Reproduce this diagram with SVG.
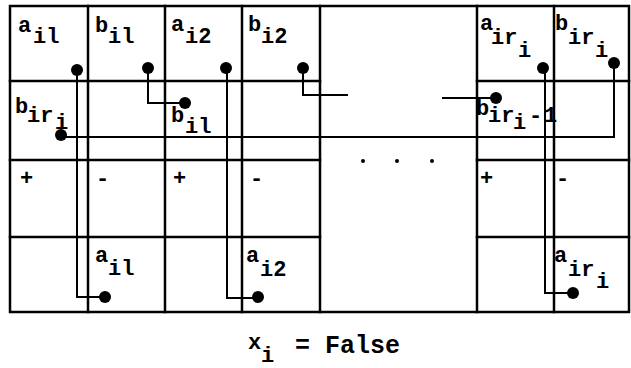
<svg xmlns="http://www.w3.org/2000/svg" width="631" height="368" viewBox="0 0 631 368">
<style>
.grid{stroke:#000;stroke-width:2.5;fill:none;stroke-linecap:square}
.wire{stroke:#000;stroke-width:2;fill:none}
.dot{fill:#000}
text{font-family:"Liberation Mono","Courier New",monospace;font-size:22px;font-weight:bold;fill:#000}
.big{font-size:25px}
</style>
<rect width="631" height="368" fill="#fff"/>
<g id="grid">
<rect class="grid" x="10" y="6" width="619" height="306"/>
<path class="grid" d="M88,6V312M165,6V312M242,6V312M320,6V312M477,6V312M554,6V312"/>
<path class="grid" d="M10,81H320M477,81H629M10,160H320M477,160H629M10,237H320M477,237H629"/>
</g>
<g id="connectors">
<path class="wire" d="M77,70V297H105"/>
<path class="wire" d="M148,68V103H185"/>
<path class="wire" d="M227,68V298H258"/>
<path class="wire" d="M303,68V95H348"/>
<path class="wire" d="M442,98H496"/>
<path class="wire" d="M61,137H614V63"/>
<path class="wire" d="M545,68V293H573"/>
<circle class="dot" cx="77" cy="70" r="6"/>
<circle class="dot" cx="105" cy="297" r="6"/>
<circle class="dot" cx="148" cy="68" r="6"/>
<circle class="dot" cx="185" cy="103" r="6"/>
<circle class="dot" cx="226" cy="68" r="6"/>
<circle class="dot" cx="258" cy="297" r="6"/>
<circle class="dot" cx="303" cy="68" r="6"/>
<circle class="dot" cx="496" cy="98" r="6"/>
<circle class="dot" cx="61" cy="135" r="6"/>
<circle class="dot" cx="614" cy="63" r="6"/>
<circle class="dot" cx="543" cy="68" r="6"/>
<circle class="dot" cx="573" cy="293" r="6"/>
</g>
<g id="n-a-i1"><text x="18" y="32">a<tspan x="33" y="43">il</tspan></text></g>
<g id="n-b-i1"><text x="95" y="32">b<tspan x="108" y="43">il</tspan></text></g>
<g id="n-a-i2"><text x="171" y="31">a<tspan x="185" y="43">i2</tspan></text></g>
<g id="n-b-i2"><text x="248" y="31">b<tspan x="261" y="43">i2</tspan></text></g>
<g id="n-a-iri"><text x="480" y="30">a<tspan x="491" y="44">ir</tspan><tspan x="518" y="57">i</tspan></text></g>
<g id="n-b-iri"><text x="555" y="30">b<tspan x="568" y="44">ir</tspan><tspan x="595" y="57">i</tspan></text></g>
<g id="n-b-iri-row2"><text x="15" y="113">b<tspan x="27" y="122">ir</tspan><tspan x="55" y="129">i</tspan></text></g>
<g id="n-b-i1-row2"><text x="171" y="122">b<tspan x="185" y="133">il</tspan></text></g>
<g id="n-b-iri-1"><text x="476" y="115">b<tspan x="488" y="122">ir</tspan><tspan x="513" y="129">i</tspan><tspan x="529" y="122">-</tspan><tspan x="544" y="122">1</tspan></text></g>
<g id="signs">
<text x="20" y="185">+</text><text x="96" y="185">-</text>
<text x="173" y="185">+</text><text x="250" y="185">-</text>
<text x="480" y="185">+</text><text x="556" y="185">-</text>
</g>
<g id="n-a-i1-bottom"><text x="95" y="262">a<tspan x="108" y="275">il</tspan></text></g>
<g id="n-a-i2-bottom"><text x="246" y="262">a<tspan x="260" y="276">i2</tspan></text></g>
<g id="n-a-iri-bottom"><text x="554" y="262">a<tspan x="568" y="276">ir</tspan><tspan x="596" y="288">i</tspan></text></g>
<g id="ellipsis">
<circle class="dot" cx="363" cy="161" r="2"/>
<circle class="dot" cx="397" cy="161" r="2"/>
<circle class="dot" cx="432" cy="161" r="2"/>
</g>
<g id="caption"><text x="248" y="349">x<tspan x="261" y="362">i</tspan><tspan class="big" x="295" y="353">= False</tspan></text></g>
</svg>
